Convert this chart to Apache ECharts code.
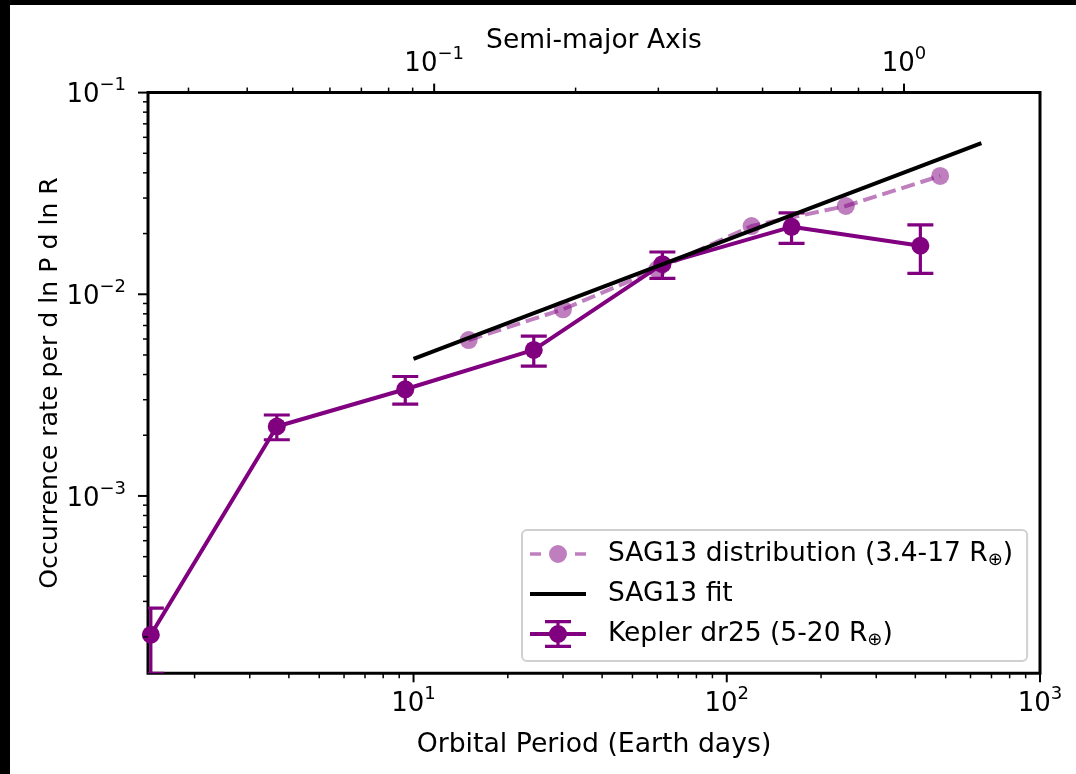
<!DOCTYPE html>
<html>
<head>
<meta charset="UTF-8">
<title>Occurrence rate</title>
<style>
    html, body {
        margin: 0;
        padding: 0;
        width: 100%;
        height: 100%;
        background-color: #000;
    }

    #main {
        position: absolute;
        left: 10px;
        top: 5px;
        width: 1066px;
        height: 769px;
        background-color: #FFF;
    }
</style>
</head>
<body>
<div id="main"></div>

<script src="https://cdn.jsdelivr.net/npm/echarts@6/dist/echarts.min.js"></script>
<script type="text/javascript">
    // Kepler dr25 (5-20 R_earth)
    var keplerPeriod = [1.45, 3.66, 9.41, 24.2, 62.3, 161, 415];
    var keplerRate = [2.05e-4, 2.21e-3, 3.38e-3, 5.30e-3, 1.41e-2, 2.16e-2, 1.74e-2];
    var keplerErr = [0.73e-4, 0.31e-3, 0.53e-3, 0.90e-3, 0.21e-2, 0.37e-2, 0.47e-2];

    // SAG13 distribution (3.4-17 R_earth)
    var sagPeriod = [15, 30, 60, 120, 240, 480];
    var sagRate = [5.93e-3, 8.42e-3, 1.33e-2, 2.18e-2, 2.74e-2, 3.86e-2];

    // SAG13 fit
    var fitPeriod = [10, 650];
    var fitRate = [4.78e-3, 5.61e-2];

    // axis ranges and ticks
    var periodRange = [1.42, 1000];
    var rateRange = [1.32e-4, 0.1];
    var periodMajor = [10, 100, 1000];
    var periodMinor = [2, 3, 4, 5, 6, 7, 8, 9, 20, 30, 40, 50, 60, 70, 80, 90, 200, 300, 400, 500, 600, 700, 800, 900];
    var rateMajor = [1e-3, 1e-2, 1e-1];
    var rateMinor = [2e-4, 3e-4, 4e-4, 5e-4, 6e-4, 7e-4, 8e-4, 9e-4,
        2e-3, 3e-3, 4e-3, 5e-3, 6e-3, 7e-3, 8e-3, 9e-3,
        2e-2, 3e-2, 4e-2, 5e-2, 6e-2, 7e-2, 8e-2, 9e-2];
    var axisMajor = [0.1, 1];
    var axisMinor = [0.03, 0.04, 0.05, 0.06, 0.07, 0.08, 0.09, 0.2, 0.3, 0.4, 0.5, 0.6, 0.7, 0.8, 0.9];

    var FONT = 'DejaVu Sans';
    var PURPLE = '#800080';
    var PURPLE_A = 'rgba(128,0,128,0.5)';

    // semi-major axis (AU) from period (days)
    function semiMajor(p) {
        return Math.pow(p / 368, 2 / 3);
    }

    // 10^n labels
    function powLabel(v) {
        var e = Math.log10(v);
        var r = Math.round(e);
        if (Math.abs(e - r) > 1e-6) {
            return '';
        }
        return '{b|10}{s|' + String(r).replace('-', '\u2212') + '}';
    }

    var labelRich = {
        b: {fontSize: 26, lineHeight: 32, verticalAlign: 'bottom', fontFamily: FONT, color: '#000'},
        s: {fontSize: 18, lineHeight: 18, verticalAlign: 'top', fontFamily: FONT, color: '#000'}
    };

    // tick marks drawn outward from the frame
    function tickSeries(xIdx, data, side, len, width) {
        return {
            type: 'custom',
            xAxisIndex: xIdx,
            yAxisIndex: 0,
            silent: true,
            clip: false,
            z: 10,
            data: data,
            renderItem: function (params, api) {
                var cs = params.coordSys;
                var p = api.coord([api.value(0), api.value(1)]);
                var shape;
                if (side === 'bottom') {
                    shape = {x1: p[0], y1: cs.y + cs.height, x2: p[0], y2: cs.y + cs.height + len};
                } else if (side === 'top') {
                    shape = {x1: p[0], y1: cs.y, x2: p[0], y2: cs.y - len};
                } else {
                    shape = {x1: cs.x, y1: p[1], x2: cs.x - len, y2: p[1]};
                }
                return {type: 'line', shape: shape, style: {stroke: '#000', lineWidth: width}};
            }
        };
    }

    var aRange = [semiMajor(periodRange[0]), semiMajor(periodRange[1])];

    var bottomTicks = periodMajor.map(function (v) { return [v, rateRange[0]]; });
    var bottomMinor = periodMinor.map(function (v) { return [v, rateRange[0]]; });
    var leftTicks = rateMajor.map(function (v) { return [periodRange[0], v]; });
    var leftMinor = rateMinor.map(function (v) { return [periodRange[0], v]; });
    var topTicks = axisMajor.map(function (v) { return [v, rateRange[0]]; });
    var topMinor = axisMinor.map(function (v) { return [v, rateRange[0]]; });

    var sagIcon = 'path://M0,12.25H11V15.75H0Z M45,12.25H56V15.75H45Z M19,14A9,9,0,1,1,37,14A9,9,0,1,1,19,14Z';
    var fitIcon = 'path://M0,0H56V3.8H0Z';
    var keplerIcon = 'path://M0,12.1H56V15.9H0Z M26.4,0H29.6V28H26.4Z M15,0H41V3.2H15Z M15,24.8H41V28H15Z ' +
        'M19,14A9,9,0,1,1,37,14A9,9,0,1,1,19,14Z';

    var mCharts = echarts.init(document.getElementById('main'));

    var mOptions = {
        animation: false,
        grid: {
            left: 138,
            right: 36,
            top: 87.6,
            bottom: 100.7,
            show: true,
            borderColor: '#000',
            borderWidth: 3,
            backgroundColor: '#FFF'
        },
        legend: {
            left: 512,
            top: 525,
            orient: 'vertical',
            selectedMode: false,
            itemWidth: 56,
            itemHeight: 28,
            itemGap: 10,
            padding: [9, 14, 12, 8],
            backgroundColor: 'rgba(255,255,255,0.8)',
            borderColor: '#d0d0d0',
            borderWidth: 2,
            borderRadius: 5,
            itemStyle: {borderWidth: 0},
            data: [
                {name: 'SAG13 distribution (3.4-17 R⊕)', icon: sagIcon},
                {name: 'SAG13 fit', icon: fitIcon},
                {name: 'Kepler dr25 (5-20 R⊕)', icon: keplerIcon}
            ],
            formatter: function (name) {
                return name.replace('R⊕', 'R{sub|⊕}');
            },
            textStyle: {
                fontFamily: FONT,
                fontSize: 26.5,
                lineHeight: 30,
                color: '#000',
                padding: [0, 0, 0, 17],
                rich: {
                    sub: {fontFamily: FONT, fontSize: 18, lineHeight: 18, verticalAlign: 'bottom', color: '#000'}
                }
            }
        },
        xAxis: [{
            type: 'log',
            position: 'bottom',
            min: periodRange[0],
            max: periodRange[1],
            name: 'Orbital Period (Earth days)',
            nameLocation: 'middle',
            nameGap: 58,
            nameMoveOverlap: false,
            nameTextStyle: {fontFamily: FONT, fontSize: 26.7, color: '#000'},
            axisLine: {show: false},
            axisTick: {show: false},
            splitLine: {show: false},
            axisLabel: {margin: 12, formatter: powLabel, rich: labelRich, fontFamily: FONT, color: '#000'}
        }, {
            type: 'log',
            position: 'top',
            min: aRange[0],
            max: aRange[1],
            name: 'Semi-major Axis',
            nameLocation: 'middle',
            nameGap: 38,
            nameMoveOverlap: false,
            nameTextStyle: {fontFamily: FONT, fontSize: 26.5, color: '#000'},
            axisLine: {show: false},
            axisTick: {show: false},
            splitLine: {show: false},
            axisLabel: {margin: 15, formatter: powLabel, rich: labelRich, fontFamily: FONT, color: '#000'}
        }],
        yAxis: {
            type: 'log',
            min: rateRange[0],
            max: rateRange[1],
            name: 'Occurrence rate per d ln P d ln R',
            nameLocation: 'middle',
            nameRotate: 90,
            nameGap: 85,
            nameMoveOverlap: false,
            nameTextStyle: {fontFamily: FONT, fontSize: 25.2, color: '#000'},
            axisLine: {show: false},
            axisTick: {show: false},
            splitLine: {show: false},
            axisLabel: {margin: 22, formatter: powLabel, rich: labelRich, fontFamily: FONT, color: '#000'}
        },
        series: [
            {
                type: 'custom',
                name: 'errors',
                xAxisIndex: 0,
                yAxisIndex: 0,
                clip: true,
                silent: true,
                z: 2,
                encode: {x: 0, y: [1, 2]},
                data: keplerPeriod.map(function (p, i) {
                    return [p, keplerRate[i] - keplerErr[i], keplerRate[i] + keplerErr[i]];
                }),
                renderItem: function (params, api) {
                    var lo = api.coord([api.value(0), api.value(1)]);
                    var hi = api.coord([api.value(0), api.value(2)]);
                    var w = 13;
                    var st = {stroke: PURPLE, lineWidth: 3.2};
                    return {
                        type: 'group',
                        children: [
                            {type: 'line', shape: {x1: lo[0], y1: lo[1], x2: hi[0], y2: hi[1]}, style: st},
                            {type: 'line', shape: {x1: lo[0] - w, y1: lo[1], x2: lo[0] + w, y2: lo[1]}, style: st},
                            {type: 'line', shape: {x1: hi[0] - w, y1: hi[1], x2: hi[0] + w, y2: hi[1]}, style: st}
                        ]
                    };
                }
            },
            {
                type: 'line',
                name: 'Kepler dr25 (5-20 R⊕)',
                z: 3,
                symbol: 'circle',
                symbolSize: 18,
                lineStyle: {color: PURPLE, width: 4},
                itemStyle: {color: PURPLE, borderWidth: 0},
                data: keplerPeriod.map(function (p, i) { return [p, keplerRate[i]]; })
            },
            {
                type: 'line',
                name: 'SAG13 distribution (3.4-17 R⊕)',
                z: 4,
                symbol: 'circle',
                symbolSize: 18,
                lineStyle: {color: PURPLE_A, width: 4, type: [14, 6]},
                itemStyle: {color: PURPLE_A, borderWidth: 0},
                data: sagPeriod.map(function (p, i) { return [p, sagRate[i]]; })
            },
            {
                type: 'line',
                name: 'SAG13 fit',
                z: 5,
                showSymbol: false,
                symbol: 'none',
                lineStyle: {color: '#000', width: 4},
                itemStyle: {color: '#000', borderWidth: 0},
                data: fitPeriod.map(function (p, i) { return [p, fitRate[i]]; })
            },
            tickSeries(0, bottomTicks, 'bottom', 9, 2),
            tickSeries(0, bottomMinor, 'bottom', 5, 1.5),
            tickSeries(0, leftTicks, 'left', 10, 2),
            tickSeries(0, leftMinor, 'left', 5, 1.5),
            tickSeries(1, topTicks, 'top', 9, 2),
            tickSeries(1, topMinor, 'top', 5, 1.5)
        ]
    };

    mCharts.setOption(mOptions);
</script>
</body>
</html>
